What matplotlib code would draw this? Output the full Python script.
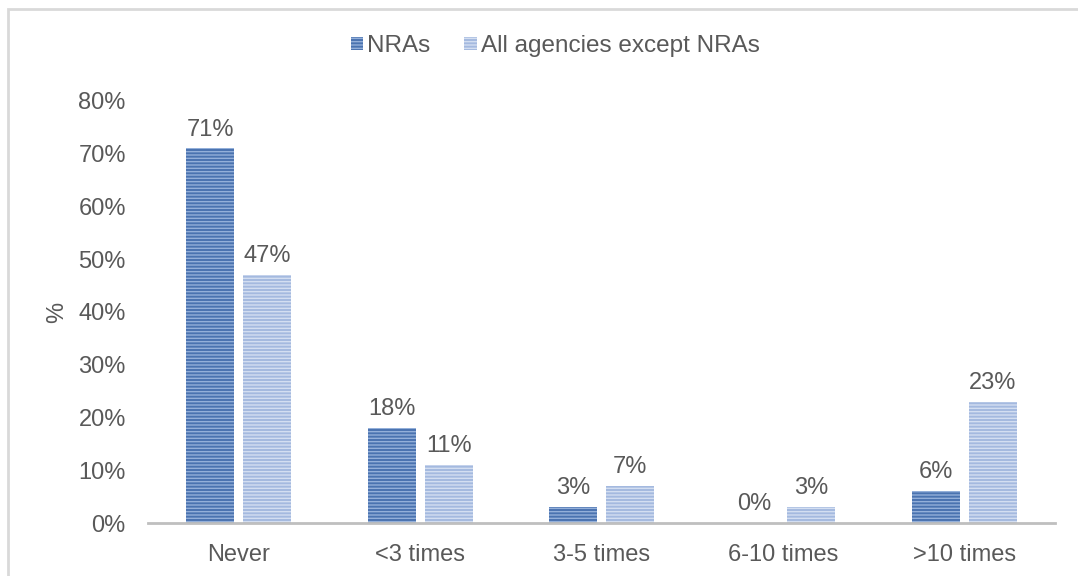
import matplotlib
matplotlib.use("Agg")
import matplotlib.pyplot as plt
import numpy as np
from matplotlib.patches import Rectangle

categories = ["Never", "<3 times", "3-5 times", "6-10 times", ">10 times"]
nras = [71, 18, 3, 0, 6]
others = [47, 11, 7, 3, 23]
series_names = ["NRAs", "All agencies except NRAs"]

plt.rcParams["font.family"] = ["Liberation Sans", "DejaVu Sans"]
plt.rcParams["hatch.linewidth"] = 1.0
txt = "#595959"
fs = 17

fig = plt.figure(figsize=(10.78, 5.76), dpi=100)
ax = fig.add_axes([0.1373, 0.092, 0.8414, 0.7327])

# outer chart frame
fig.patches.append(Rectangle((8 / 1078, -0.05), 1.2, 1 - 9 / 576 + 0.05,
                             transform=fig.transFigure, fill=False,
                             edgecolor="#d9d9d9", linewidth=2))

x = np.arange(len(categories))
w = 0.265
off = 0.157

b1 = ax.bar(x - off, nras, w, color="#4a73b0", linewidth=0,
            hatch="-----", label=series_names[0])
b2 = ax.bar(x + off, others, w, color="#a4b9df", linewidth=0,
            hatch="-----", label=series_names[1])
for b in b1:
    b.set_edgecolor("#93afd9")
for b in b2:
    b.set_edgecolor("#d3def1")

for xs, vals in [(x - off, nras), (x + off, others)]:
    for xi, v in zip(xs, vals):
        ax.text(xi, v + 1.5, f"{v}%", ha="center", va="bottom",
                fontsize=fs, color=txt)

ax.set_xlim(-0.5, len(categories) - 0.5)
ax.set_ylim(0, 80)
ax.set_yticks(range(0, 81, 10))
ax.set_yticklabels([f"{t}%" for t in range(0, 81, 10)])
ax.set_xticks(x)
ax.set_xticklabels(categories)
ax.tick_params(axis="both", length=0, labelsize=fs, colors=txt)
ax.tick_params(axis="y", pad=16)
ax.tick_params(axis="x", pad=15)
for s in ["top", "right", "left"]:
    ax.spines[s].set_visible(False)
ax.spines["bottom"].set_color("#bfbfbf")
ax.spines["bottom"].set_linewidth(2)

ax.set_ylabel("%", fontsize=fs, color=txt, labelpad=7)

leg = fig.legend(handles=[b1, b2], labels=series_names, loc="center",
                 bbox_to_anchor=(0.515, 0.92), ncol=2, frameon=False,
                 fontsize=17.5, handlelength=0.5, handleheight=0.5,
                 handletextpad=0.17, columnspacing=1.4)
for t in leg.get_texts():
    t.set_color(txt)

fig.savefig("out.png", dpi=100)
